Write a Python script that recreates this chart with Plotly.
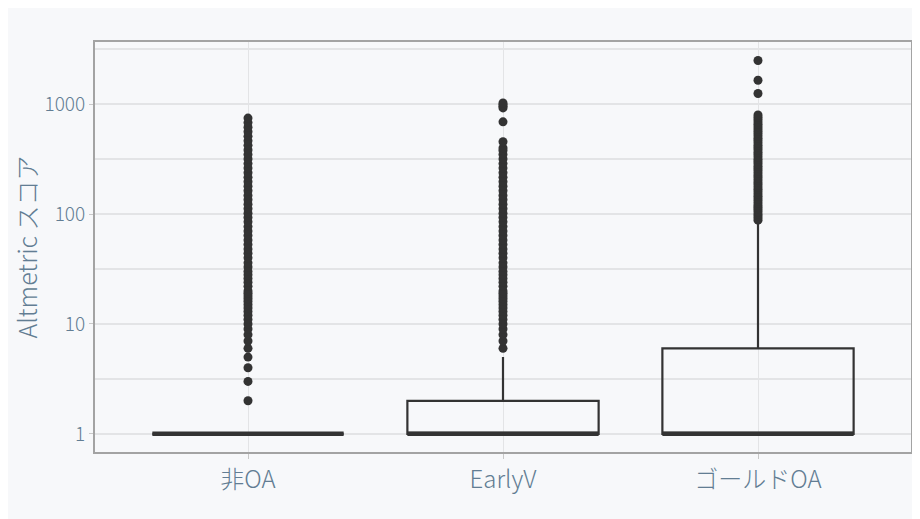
import plotly.graph_objects as go

categories = ["非OA", "EarlyV", "ゴールドOA"]
q1 = [1, 1, 1]
median = [1, 1, 1]
q3 = [1, 2, 6]
lowerfence = [1, 1, 1]
upperfence = [1, 5, 86]

outliers_nonoa = [2, 3, 4, 5, 6, 7, 8, 9, 10, 11, 12, 13, 14, 15, 16, 17, 18, 19, 20,
                  22, 24, 26, 28, 30, 33, 36, 40, 44, 48, 53, 58, 64, 70, 77, 85, 93,
                  102, 112, 123, 135, 148, 163, 179, 197, 216, 238, 262, 288, 317, 349,
                  384, 422, 464, 510, 561, 617, 680, 747]
outliers_early = [6, 7, 8, 9, 10, 11, 12, 13, 14, 15, 16, 17, 18, 19, 20, 22, 24, 26,
                  28, 30, 33, 36, 40, 44, 48, 53, 58, 64, 70, 77, 85, 93, 102, 112, 123,
                  135, 148, 163, 179, 197, 216, 238, 262, 288, 317, 349, 380, 400, 455,
                  691, 925, 960, 990, 1025]
outliers_gold = [88, 92, 96, 100, 105, 110, 115, 120, 126, 132, 138, 145, 152, 160, 168,
                 176, 185, 194, 204, 214, 225, 236, 248, 260, 273, 287, 301, 316, 332,
                 349, 366, 385, 404, 424, 445, 467, 490, 515, 540, 567, 595, 625, 656,
                 690, 724, 760, 798, 1250, 1650, 2500]
outliers = [outliers_nonoa, outliers_early, outliers_gold]

y_tickvals = [1, 10, 100, 1000]
y_ticktext = ["1", "10", "100", "1000"]
y_minor = [3.162, 31.62, 316.2, 3162]

BOX_W = 0.75
DARK = "#333333"
BG = "#F7F8FA"
GRID = "#E3E4E6"
TXT = "#627D93"
FONT = "Noto Sans CJK JP"

fig = go.Figure()
for i, cat in enumerate(categories):
    fig.add_trace(go.Box(
        x=[i], q1=[q1[i]], median=[median[i]], q3=[q3[i]],
        lowerfence=[lowerfence[i]], upperfence=[upperfence[i]],
        width=BOX_W, whiskerwidth=0, boxpoints=False,
        line=dict(color=DARK, width=2.2), fillcolor="rgba(0,0,0,0)",
        name=cat, showlegend=False, hoverinfo="skip"))
    fig.add_trace(go.Scatter(
        x=[i] * len(outliers[i]), y=outliers[i], mode="markers",
        marker=dict(color=DARK, size=9, line=dict(width=0)),
        showlegend=False, hoverinfo="skip"))
    fig.add_trace(go.Scatter(
        x=[i - BOX_W / 2, i + BOX_W / 2], y=[median[i], median[i]], mode="lines",
        line=dict(color=DARK, width=4.5), showlegend=False, hoverinfo="skip"))

fig.update_layout(
    width=920, height=519,
    margin=dict(l=87, r=17, t=34, b=75),
    paper_bgcolor=BG, plot_bgcolor=BG,
    font=dict(family=FONT, color=TXT, weight=300),
    xaxis=dict(
        range=[-0.6, 2.6], tickvals=[0, 1, 2], ticktext=categories,
        showgrid=True, gridcolor=GRID, gridwidth=1.3, zeroline=False,
        showline=True, linecolor="#A3A3A3", linewidth=2, mirror=True,
        ticks="outside", ticklen=5, tickcolor="#C8C8C8", tickwidth=1.3,
        tickfont=dict(size=24, color=TXT, family=FONT, weight=300)),
    yaxis=dict(
        type="log", range=[-0.165, 3.566],
        tickvals=y_tickvals, ticktext=y_ticktext,
        showgrid=True, gridcolor=GRID, gridwidth=1.5, zeroline=False,
        showline=True, linecolor="#A3A3A3", linewidth=2, mirror=True,
        ticks="outside", ticklen=4, tickcolor="#C8C8C8", tickwidth=1.3,
        tickfont=dict(size=19, color=TXT, family=FONT, weight=300),
        minor=dict(tickvals=y_minor, showgrid=True, gridcolor=GRID, gridwidth=1.5, ticks=""),
        title=dict(text="Altmetric スコア", font=dict(size=25, color=TXT, family=FONT, weight=300), standoff=1)),
)

fig.write_html("out.html")
